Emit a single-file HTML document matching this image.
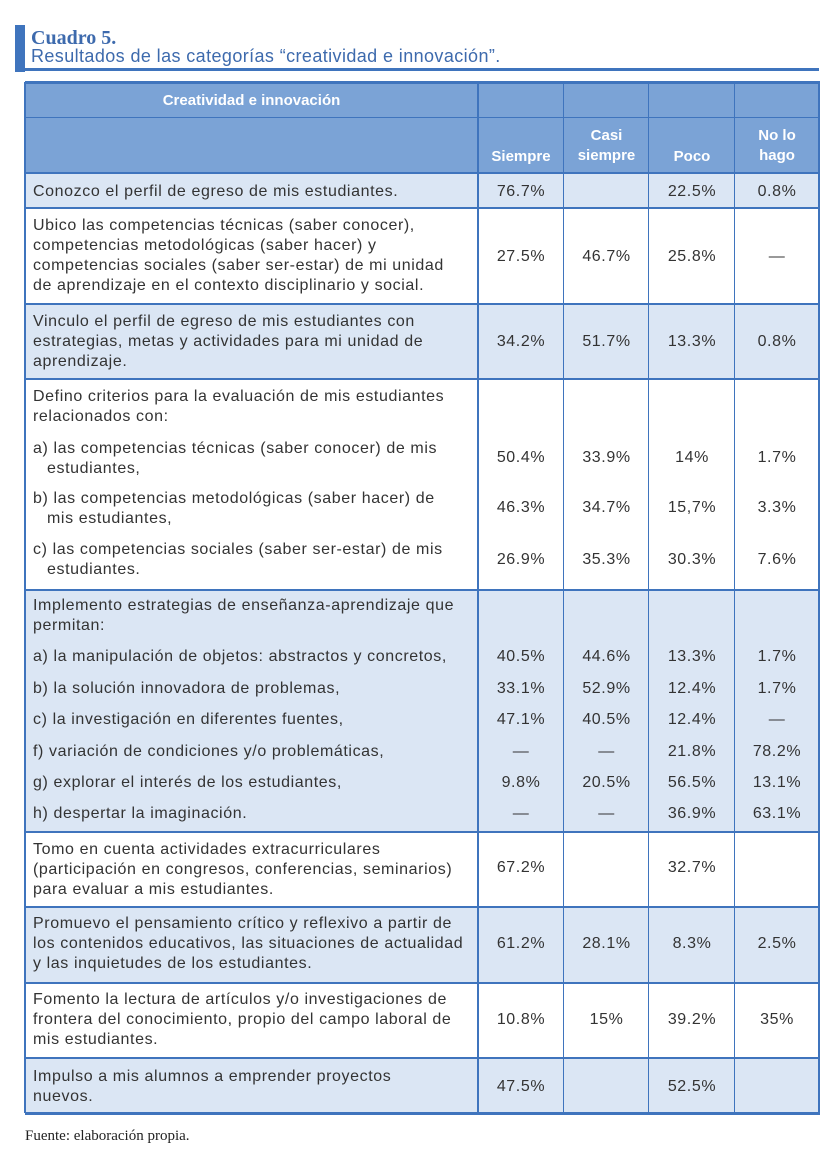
<!DOCTYPE html>
<html><head><meta charset="utf-8">
<style>
html,body{margin:0;padding:0;background:#fff;}
#page{position:relative;width:840px;height:1161px;overflow:hidden;font-family:"Liberation Sans",sans-serif;color:#333;}
.a{position:absolute;}
.t{position:absolute;font-size:16px;letter-spacing:0.6px;line-height:20px;white-space:nowrap;color:#333;}
.v{position:absolute;font-size:16px;letter-spacing:0.6px;line-height:20px;text-align:center;width:86px;color:#333;}
.h{position:absolute;font-size:15px;line-height:20px;text-align:center;color:#fff;font-weight:bold;}
</style></head>
<body>
<div id="page">
  <div class="a" style="left:15px;top:25px;width:10px;height:47px;background:#3f74bd;"></div>
  <div class="a" style="left:15px;top:68px;width:804px;height:3px;background:#3f74bd;"></div>
  <div class="a" style="left:31px;top:27px;font-family:'Liberation Serif',serif;font-weight:bold;font-size:20px;color:#3d6aad;">Cuadro 5.</div>
  <div class="a" style="left:31px;top:46px;font-size:18px;letter-spacing:0.4px;color:#3d6aad;">Resultados de las categorías “creatividad e innovación”.</div>
  <div class="a" style="left:25px;top:1128px;font-family:'Liberation Serif',serif;font-size:15px;color:#222;">Fuente: elaboración propia.</div>
  <div id="tbl"></div>
</div>
<script>
var colX=[478,564,649,735,819];
var headers=["Siempre","Casi<br>siempre","Poco","No lo<br>hago"];
var groups=[
 {top:173,bot:208,bg:"#dbe6f4",items:[{y:192,text:["Conozco el perfil de egreso de mis estudiantes."],vals:["76.7%","","22.5%","0.8%"]}]},
 {top:208,bot:304,bg:"#fff",items:[{y:226,vy:257,text:["Ubico las competencias técnicas (saber conocer),","competencias metodológicas (saber hacer) y","competencias sociales (saber ser-estar) de mi unidad","de aprendizaje en el contexto disciplinario y social."],vals:["27.5%","46.7%","25.8%","—"]}]},
 {top:304,bot:379,bg:"#dbe6f4",items:[{y:322,vy:342,text:["Vinculo el perfil de egreso de mis estudiantes con","estrategias, metas y actividades para mi unidad de","aprendizaje."],vals:["34.2%","51.7%","13.3%","0.8%"]}]},
 {top:379,bot:590,bg:"#fff",items:[
   {y:397,text:["Defino criterios para la evaluación de mis estudiantes","relacionados con:"],vals:["","","",""]},
   {y:449,vy:458,text:["a) las competencias técnicas (saber conocer) de mis","estudiantes,"],vals:["50.4%","33.9%","14%","1.7%"]},
   {y:499,vy:508,text:["b) las competencias metodológicas (saber hacer) de","mis estudiantes,"],vals:["46.3%","34.7%","15,7%","3.3%"]},
   {y:550,vy:560,text:["c) las competencias sociales (saber ser-estar) de mis","estudiantes."],vals:["26.9%","35.3%","30.3%","7.6%"]}]},
 {top:590,bot:832,bg:"#dbe6f4",items:[
   {y:606,text:["Implemento estrategias de enseñanza-aprendizaje que","permitan:"],vals:["","","",""]},
   {y:657,text:["a) la manipulación de objetos: abstractos y concretos,"],vals:["40.5%","44.6%","13.3%","1.7%"]},
   {y:689,text:["b) la solución innovadora de problemas,"],vals:["33.1%","52.9%","12.4%","1.7%"]},
   {y:720,text:["c) la investigación en diferentes fuentes,"],vals:["47.1%","40.5%","12.4%","—"]},
   {y:752,text:["f) variación de condiciones y/o problemáticas,"],vals:["—","—","21.8%","78.2%"]},
   {y:783,text:["g) explorar el interés de los estudiantes,"],vals:["9.8%","20.5%","56.5%","13.1%"]},
   {y:814,text:["h) despertar la imaginación."],vals:["—","—","36.9%","63.1%"]}]},
 {top:832,bot:907,bg:"#fff",items:[{y:850,vy:868,text:["Tomo en cuenta actividades extracurriculares","(participación en congresos, conferencias, seminarios)","para evaluar a mis estudiantes."],vals:["67.2%","","32.7%",""]}]},
 {top:907,bot:983,bg:"#dbe6f4",items:[{y:924,vy:944,text:["Promuevo el pensamiento crítico y reflexivo a partir de","los contenidos educativos, las situaciones de actualidad","y las inquietudes de los estudiantes."],vals:["61.2%","28.1%","8.3%","2.5%"]}]},
 {top:983,bot:1058,bg:"#fff",items:[{y:1000,vy:1020,text:["Fomento la lectura de artículos y/o investigaciones de","frontera del conocimiento, propio del campo laboral de","mis estudiantes."],vals:["10.8%","15%","39.2%","35%"]}]},
 {top:1058,bot:1113,bg:"#dbe6f4",items:[{y:1077,vy:1087,text:["Impulso a mis alumnos a emprender proyectos","nuevos."],vals:["47.5%","","52.5%",""]}]}
];
var tbl=document.getElementById('tbl');
var L=25,R=819,B="#3f74bd";
function box(l,t,w,h,bg){var d=document.createElement('div');d.className='a';d.style.cssText='left:'+l+'px;top:'+t+'px;width:'+w+'px;height:'+h+'px;background:'+bg;tbl.appendChild(d);return d;}
var hb=box(L,82,R-L,91,"#7ba3d6");


groups.forEach(function(g,gi){
  var bgd=box(L,g.top,R-L,g.bot-g.top,g.bg);
  
  
  g.items.forEach(function(it){
    var tx=document.createElement('div');tx.className='t';
    var sub=/^[a-h]\)/.test(it.text[0]);
    tx.innerHTML=it.text.map(function(s,i){return (sub&&i>0)?'<span style="padding-left:14px">'+s+'</span>':s;}).join('<br>');
    tx.style.left='33px';tx.style.top=(it.y-10)+'px';
    
    
    tbl.appendChild(tx);
    var vy=it.vy||it.y;
    it.vals.forEach(function(v,ci){
      if(!v)return;
      var c=document.createElement('div');c.className='v';c.textContent=v;
      c.style.left=colX[ci]+'px';c.style.width=(colX[ci+1]-colX[ci])+'px';c.style.top=(vy-10)+'px';
      
      
      tbl.appendChild(c);
    });
  });
});
var h1=document.createElement('div');h1.className='h';h1.textContent='Creatividad e innovación';
h1.style.cssText+='left:'+L+'px;width:'+(colX[0]-L)+'px;top:91px;';


tbl.appendChild(h1);
headers.forEach(function(h,i){
  var d=document.createElement('div');d.className='h';d.innerHTML=h;
  var two=h.indexOf('<br>')>=0;
  d.style.left=colX[i]+'px';d.style.width=(colX[i+1]-colX[i])+'px';d.style.top=(two?126:147)+'px';
  
  
  tbl.appendChild(d);
});
var hl=[82,118,173];groups.forEach(function(g){hl.push(g.bot);});
hl.forEach(function(y,i){
  var w=(i===0||i===hl.length-1)?3:2;
  if(i===1)w=1;
  var d=box(L,y-1,R-L+1,w,B);
  
  
});
var vl=[L].concat(colX);
vl.forEach(function(x,i){
  var w=(i===0||i===1||i===vl.length-1)?2:1;
  var d=box(x-1,82,w,1113-82,B);
  
  
});
</script>
</body></html>
